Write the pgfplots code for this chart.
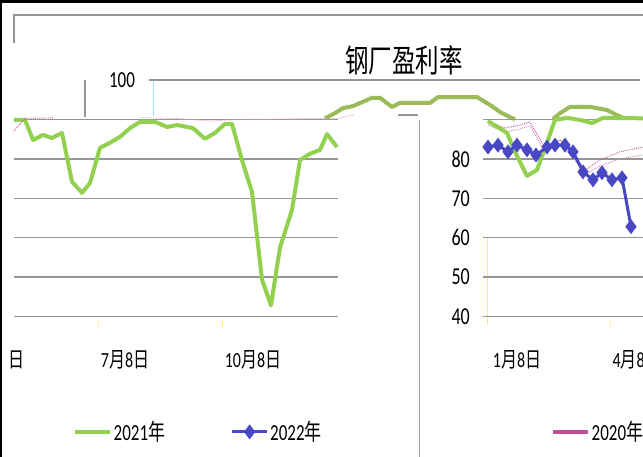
\documentclass[border=0pt]{standalone}
\usepackage{pgfplots}
\pgfplotsset{compat=1.18}
\usepackage{fontspec}
\setmainfont{Carlito}
\newfontfamily\cjk{Noto Sans CJK SC}
\definecolor{g21}{RGB}{146,208,80}
\definecolor{olv}{RGB}{155,187,89}
\definecolor{b22}{RGB}{72,72,196}
\definecolor{m20}{RGB}{192,80,150}
\definecolor{gridc}{RGB}{150,150,150}
\definecolor{ytk}{RGB}{250,240,120}
\newcommand{\tx}[2]{\scalebox{1}[1.35]{\fontsize{#1}{#1}\selectfont #2}}
\pgfplotsset{
  panel/.style={scale only axis, height=197pt, ymin=40, ymax=90, clip=false,
    axis line style={draw=none}, xtick=\empty, ytick={40,50,...,90},
    ymajorgrids, major grid style={gridc, line width=1.3pt}, major tick length=0pt,
    legend image code/.code={\draw[mark repeat=2, mark phase=2, ##1] plot coordinates {(0pt,0pt) (17.5pt,0pt) (35pt,0pt)};},
    legend style={draw=none, fill=none, inner sep=0pt, anchor=west, legend columns=2,
      /tikz/every even column/.append style={column sep=64pt},
      nodes={inner sep=1.5pt}}},
}
\begin{document}
\begin{tikzpicture}[x=1pt,y=1pt]
\fill[white] (0,0) rectangle (643,457);
% decorations of the frame
\fill[black] (0,453.5) rectangle (643,457);
\fill[black] (0,0) rectangle (2,457);
\draw[gridc, line width=1.5pt] (14,414) -- (14,442) -- (643,442);
\draw[gridc, line width=1.2pt] (85,377) -- (85,340);
\draw[cyan!35, line width=0.8pt] (153,377) -- (153,341);
\draw[gridc, line width=1.3pt] (149,377) -- (640,377);
\draw[gridc, line width=1.3pt] (398,342) -- (418,342);
\draw[b22!55, line width=0.8pt] (419,337) -- (419,0);
% yellow ticks
\draw[ytk, line width=0.8pt] (98,136) -- (98,130) (222,136) -- (222,130) (610,136) -- (610,130) (487,220) -- (487,132);
% texts
\node at (122,377) {\tx{17}{100}};
\node at (404,397) {\tx{23.5}{\cjk 钢厂盈利率}};
\node at (17,97) {\tx{16}{\cjk 日}};
\node at (125,97) {\tx{16}{7{\cjk 月}8{\cjk 日}}};
\node at (253,97) {\tx{16}{10{\cjk 月}8{\cjk 日}}};
\node at (517,97) {\tx{16}{1{\cjk 月}8{\cjk 日}}};
\node[anchor=west] at (609,97) {\tx{16}{4{\cjk 月}8{\cjk 日}}};

% left panel
\begin{axis}[panel, at={(14pt,140.5pt)}, anchor=south west, width=324pt,
  xmin=14, xmax=338, yticklabels={,,,,,},
  legend style={at={(axis cs:73,10.7)}}]
\addplot[g21, line width=4pt, line join=round] coordinates {
(14,89.9) (25,89.9) (33,84.8) (43,86.1) (52,85.3) (62,86.6) (72,74.2) (82,71.4)
(90,73.9) (100,82.8) (110,84.1) (120,85.6) (130,87.8) (140,89.4) (155,89.4)
(167,88.1) (177,88.6) (193,87.8) (205,85.1) (215,86.6) (225,88.9) (232,88.9)
(242,79.7) (252,71.6) (262,49.4) (271,42.8) (280,57.5) (292,67.1) (300,79.7)
(310,81.3) (320,82.3) (327,86.3) (337,83.0)};
\addlegendentry{\tx{17}{2021{\cjk 年}}}
\addlegendimage{b22, line width=3pt, mark=diamond*, mark size=5pt}
\addlegendentry{\tx{17}{2022{\cjk 年}}}
\addplot[olv, line width=4pt, line join=round, forget plot] coordinates {
(325,90.3) (335,91.6) (343,92.9) (353,93.4) (372,95.5) (380,95.5) (392,93.2)
(400,94.2) (430,94.2) (438,95.7) (477,95.7) (490,93.7) (500,91.9) (510,90.6) (515,90.1)};
\addplot[olv, line width=4pt, line join=round, forget plot] coordinates {
(553,90.1) (560,91.6) (570,93.2) (590,93.2) (607,92.4) (617,91.1) (625,90.2)};
\addplot[m20, densely dotted, line width=0.9pt, forget plot] coordinates {
(14,87.1) (25,90.3) (53,90.4)};
\addplot[m20!60, densely dotted, line width=0.8pt, forget plot] coordinates {
(140,90.5) (180,90.2) (210,89.6) (230,89.9) (300,90.2) (338,90.3) (355,91.2)};
\end{axis}

% right panel
\begin{axis}[panel, at={(483pt,140.5pt)}, anchor=south west, width=160pt,
  xmin=483, xmax=643,
  yticklabels={\tx{18}{40},\tx{18}{50},\tx{18}{60},\tx{18}{70},\tx{18}{80},{}},
  yticklabel style={inner sep=0pt, xshift=-13pt},
  legend style={at={(axis cs:551,10.7)}}]
\addlegendimage{m20, line width=4pt}
\addlegendentry{\tx{17}{2020{\cjk 年}}}
\addplot[m20, densely dotted, line width=0.9pt, forget plot] coordinates {
(488,89.6) (505,87.8) (520,88.6) (530,89.4) (545,82.8) (560,84.8) (570,82.3)
(585,77.2) (600,79.7) (620,81.8) (643,83.0)};
\addplot[m20!70, densely dotted, line width=0.9pt, forget plot] coordinates {
(488,88.6) (505,86.8) (520,87.6) (530,88.4) (545,81.8) (560,83.8) (570,81.3)
(585,76.2) (600,78.2) (620,80.0) (643,81.0)};
\addplot[g21, line width=4pt, line join=round, forget plot] coordinates {
(488,89.6) (507,86.6) (515,81.8) (527,75.7) (537,77.2) (547,84.1) (555,89.9)
(567,90.4) (580,89.9) (592,89.1) (603,90.4) (643,90.3)};
\addplot[b22, line width=3pt, mark=diamond*, mark size=5pt, forget plot] coordinates {
(488,83.0) (498,83.5) (508,81.8) (517,83.5) (527,82.3) (536,81.0) (547,83.0)
(555,83.5) (565,83.5) (573,81.8) (583,76.7) (593,74.7) (602,76.5) (612,74.7)
(622,75.2) (631,62.8)};
\end{axis}
\pgfresetboundingbox
\useasboundingbox (0,0) rectangle (643,457);
\end{tikzpicture}
\end{document}
